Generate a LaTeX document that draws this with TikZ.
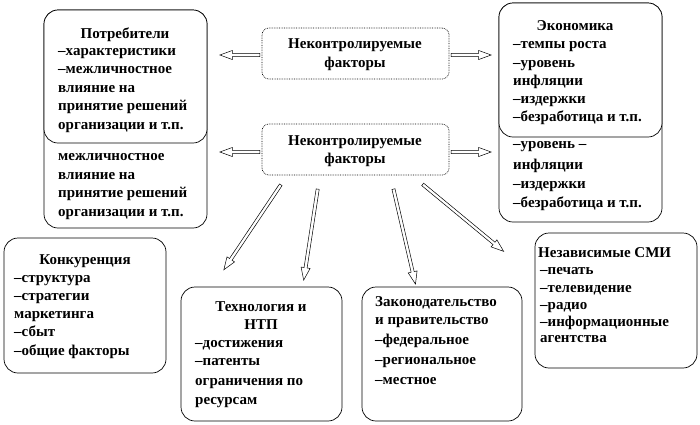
\documentclass[tikz,border=0pt]{standalone}
\usepackage{fontspec}
\setmainfont{Liberation Serif}[BoldFont={Liberation Serif Bold}]
\usetikzlibrary{shapes.arrows,calc}
\begin{document}
\begin{tikzpicture}[x=1pt,y=-1pt,
  box/.style={draw, rounded corners=14pt, line width=0.7pt, fill=white},
  fbox/.style={draw, rounded corners=7pt, line width=0.7pt, densely dotted, fill=white},
  t/.style={anchor=base west, inner sep=0pt, font=\bfseries\fontsize{15}{17}\selectfont},
  tc/.style={anchor=base, inner sep=0pt, font=\bfseries\fontsize{15}{17}\selectfont},
  harrow/.style={single arrow, draw, fill=white, line width=0.5pt, inner sep=1.3pt,
    single arrow head extend=3pt, single arrow tip angle=40, minimum width=9pt, anchor=center}]
\useasboundingbox (0,0) rectangle (700,424);
% Consumers
\draw[box] (44,10) rectangle (207,228);
\node[t] (c5) at (58,160) {межличностное};
\node[t] (c6) at (58,179) {влияние на};
\node[t] (c7) at (58,197) {принятие решений};
\node[t] (c8) at (58,216) {организации и т.п.};
\draw[box] (44,10) rectangle (207,143);
\node[tc] (ct) at (125,38) {Потребители};
\node[t] (c1) at (58,55) {–характеристики};
\node[t] (c2) at (58,73) {–межличностное};
\node[t] (c3) at (58,92) {влияние на};
\node[t] (c4) at (58,110) {принятие решений};
\node[t] (c4b) at (58,129) {организации и т.п.};
% Economy
\draw[box] (499,3) rectangle (662,222);
\node[t] (e5) at (513,148) {–уровень –};
\node[t] (e6) at (513,169) {инфляции};
\node[t] (e7) at (513,188) {–издержки};
\node[t] (e8) at (513,207) {–безработица и т.п.};
\draw[box] (499,3) rectangle (662,137);
\node[tc] (et) at (575,30) {Экономика};
\node[t] (e1) at (513,48) {–темпы роста};
\node[t] (e2) at (513,67) {–уровень};
\node[t] (e3) at (513,85) {инфляции};
\node[t] (e4) at (513,103) {–издержки};
\node[t] (e4b) at (513,121) {–безработица и т.п.};
% factor boxes
\draw[fbox] (262,28) rectangle (449,79);
\node[tc] (f1) at (355,48) {Неконтролируемые};
\node[tc] (f1b) at (355,67) {факторы};
\draw[fbox] (262,124) rectangle (449,175);
\node[tc] (f2) at (355,145) {Неконтролируемые};
\node[tc] (f2b) at (355,163) {факторы};
\coordinate (l1a) at (262,55); \coordinate (l1b) at (222,55);
\coordinate (r1a) at (449,55); \coordinate (r1b) at (489,55);
\coordinate (l2a) at (262,152); \coordinate (l2b) at (222,152);
\coordinate (r2a) at (449,152); \coordinate (r2b) at (489,152);
\coordinate (d1a) at (282,183); \coordinate (d1b) at (225,268);
\coordinate (d2a) at (318,187); \coordinate (d2b) at (304,278);
\coordinate (d3a) at (393,187); \coordinate (d3b) at (415,282);
\coordinate (d4a) at (421,183); \coordinate (d4b) at (502,250);
\foreach \a/\b in {l1a/l1b,r1a/r1b,l2a/l2b,r2a/r2b,d1a/d1b,d2a/d2b,d3a/d3b,d4a/d4b}{
  \path let \p1=($(\b)-(\a)$), \n1={atan2(\y1,\x1)}, \n2={veclen(\x1,\y1)} in
    node[harrow, minimum height=\n2, rotate=\n1] at ($(\a)!0.5!(\b)$) {};
}
% Competition
\draw[box] (4,238) rectangle (166,373);
\node[tc] (k0) at (85,264) {Конкуренция};
\node[t] (k1) at (14,282) {–структура};
\node[t] (k2) at (14,300) {–стратегии};
\node[t] (k3) at (14,318) {маркетинга};
\node[t] (k4) at (14,336) {–сбыт};
\node[t] (k5) at (14,355) {–общие факторы};
% Technology
\draw[box] (181,287) rectangle (342,421);
\node[tc] (n0) at (261,311) {Технология и};
\node[tc] (n1) at (261,329) {НТП};
\node[t] (n2) at (195,347) {–достижения};
\node[t] (n3) at (195,365) {–патенты};
\node[t] (n4) at (195,385) {ограничения по};
\node[t] (n5) at (195,404) {ресурсам};
% Law
\draw[box] (362,287) rectangle (522,421);
\node[t] (z0) at (375,306) {Законодательство};
\node[t] (z1) at (375,324) {и правительство};
\node[t] (z2) at (375,344) {–федеральное};
\node[t] (z3) at (375,364) {–региональное};
\node[t] (z4) at (375,384) {–местное};
% Media
\draw[box] (535,233) rectangle (697,368);
\node[t] (m0) at (538,257) {Независимые СМИ};
\node[t] (m1) at (540,274) {–печать};
\node[t] (m2) at (540,292) {–телевидение};
\node[t] (m3) at (540,309) {–радио};
\node[t] (m4) at (540,326) {–информационные};
\node[t] (m5) at (540,342) {агентства};
\end{tikzpicture}
\end{document}
